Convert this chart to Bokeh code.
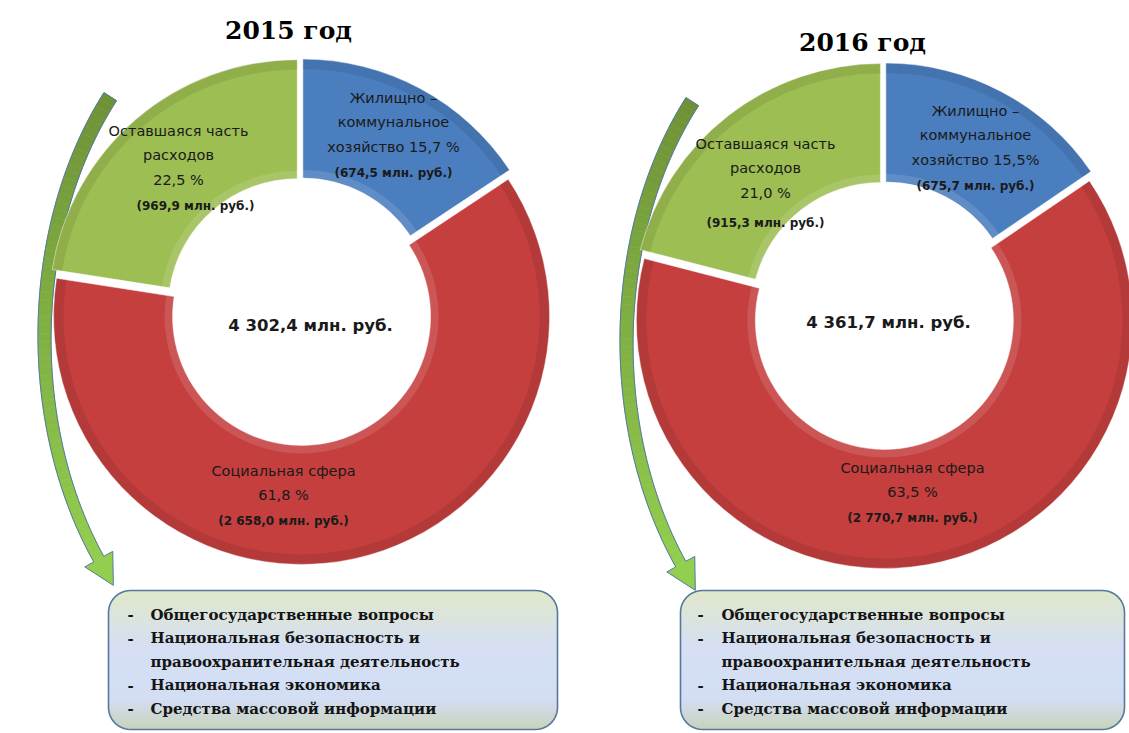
import math
from bokeh.plotting import figure
from bokeh.models import Range1d, ColumnDataSource
from bokeh.core.properties import value
from bokeh.embed import file_html
from bokeh.resources import INLINE

# ---------------- data ----------------
years = ["2015 год", "2016 год"]
totals = ["4 302,4 млн. руб.", "4 361,7 млн. руб."]
categories = ["Жилищно –\nкоммунальное\nхозяйство", "Социальная сфера", "Оставшаяся часть\nрасходов"]
amounts_2015 = [674.5, 2658.0, 969.9]
amounts_2016 = [675.7, 2770.7, 915.3]
pct_2015 = ["15,7 %", "61,8 %", "22,5 %"]
pct_2016 = ["15,5%", "63,5 %", "21,0 %"]
amount_labels_2015 = ["(674,5 млн. руб.)", "(2 658,0 млн. руб.)", "(969,9 млн. руб.)"]
amount_labels_2016 = ["(675,7 млн. руб.)", "(2 770,7 млн. руб.)", "(915,3 млн. руб.)"]
other_items = ["Общегосударственные вопросы",
               "Национальная безопасность и\nправоохранительная деятельность",
               "Национальная экономика",
               "Средства массовой информации"]
colors = ["#4A7EBF", "#C43F3E", "#9DBE52"]

# ---------------- canvas ----------------
IMG_H = 733
W, H = 1129, 733
def Y(iy):
    return IMG_H - iy

p = figure(width=W, height=H, x_range=Range1d(0, W), y_range=Range1d(0, H),
           output_backend="svg", toolbar_location=None, min_border=0)
p.axis.visible = False
p.grid.visible = False
p.outline_line_color = None
p.background_fill_color = "white"
p.border_fill_color = "white"

LABEL_FONT = value("DejaVu Sans")
SERIF = value("DejaVu Serif")


def txt(x, iy, s, size, font=LABEL_FONT, style="normal", color="#1a1a1a", align="center"):
    p.text(x=[x], y=[Y(iy)], text=[s], text_font=font, text_font_size=f"{size}px",
           text_font_style=style, text_color=color, text_align=align, text_baseline="middle")


def donut(cx, icy, amounts, R=248, r=129, d=5):
    cy = Y(icy)
    total = sum(amounts)
    xs, ys, st, en = [], [], [], []
    cum = 0.0
    for a in amounts:
        f0 = cum / total
        cum += a
        f1 = cum / total
        s = math.radians(90 - f1 * 360)
        e = math.radians(90 - f0 * 360)
        mid = (s + e) / 2
        xs.append(cx + d * math.cos(mid))
        ys.append(cy + d * math.sin(mid))
        st.append(s)
        en.append(e)
    src = ColumnDataSource(dict(x=xs, y=ys, s=st, e=en, c=colors))
    p.annular_wedge(x="x", y="y", inner_radius=r, outer_radius=R, start_angle="s", end_angle="e",
                    fill_color="c", line_color="white", line_width=0.5, source=src)
    # bevel shading
    p.annular_wedge(x="x", y="y", inner_radius=R - 10, outer_radius=R, start_angle="s", end_angle="e",
                    fill_color="black", fill_alpha=0.08, line_color=None, source=src)
    p.annular_wedge(x="x", y="y", inner_radius=r, outer_radius=r + 8, start_angle="s", end_angle="e",
                    fill_color="white", fill_alpha=0.12, line_color=None, source=src)


def lerp_color(c0, c1, t):
    a = [int(c0[i:i + 2], 16) for i in (1, 3, 5)]
    b = [int(c1[i:i + 2], 16) for i in (1, 3, 5)]
    return "#%02x%02x%02x" % tuple(int(round(a[k] + (b[k] - a[k]) * t)) for k in range(3))


def arrow(ox, oy):
    cx, cy, a, b = 300 + ox, 337 + oy, 256, 360
    t0, t1 = -42.0, 38.0
    N = 60
    L, Rr = [], []
    for i in range(N + 1):
        u = i / N
        w = 7.5 - 1.8 * u
        t = math.radians(t0 + (t1 - t0) * u)
        x = cx - a * math.cos(t)
        y = cy + b * math.sin(t)
        tx, ty = a * math.sin(t), b * math.cos(t)
        n = math.hypot(tx, ty)
        tx, ty = tx / n, ty / n
        nx, ny = -ty, tx
        L.append((x + nx * w, y + ny * w))
        Rr.append((x - nx * w, y - ny * w))
    xs_list, ys_list, cols = [], [], []
    c_top, c_bot = "#6F9136", "#92CF4E"
    for i in range(N):
        pts = [L[i], L[i + 1], Rr[i + 1], Rr[i]]
        xs_list.append([q[0] for q in pts])
        ys_list.append([Y(q[1]) for q in pts])
        cols.append(lerp_color(c_top, c_bot, i / N))
    p.patches(xs_list, ys_list, fill_color=cols, line_color=cols, line_width=0.6)
    # arrowhead
    x = cx - a * math.cos(math.radians(t1))
    y = cy + b * math.sin(math.radians(t1))
    tx, ty = a * math.sin(math.radians(t1)), b * math.cos(math.radians(t1))
    n = math.hypot(tx, ty)
    tx, ty = tx / n, ty / n
    nx, ny = -ty, tx
    hw, hl = 16, 30
    head = [(x + nx * hw, y + ny * hw), (x + tx * hl, y + ty * hl), (x - nx * hw, y - ny * hw)]
    p.patch([q[0] for q in head], [Y(q[1]) for q in head], fill_color=c_bot, line_color=None)
    outline = L + [head[0], head[1], head[2]] + Rr[::-1] + [L[0]]
    p.line([q[0] for q in outline], [Y(q[1]) for q in outline], line_color="#5479A6", line_width=1)


def rounded_box(x0, x1, iy0, iy1, rad):
    stops = [(0.0, "#DEE7C6"), (0.40, "#D3DDF2"), (0.78, "#D0DBF3"), (1.0, "#C4D0B4")]
    lefts, rights, tops, bots, cols = [], [], [], [], []
    n = int(iy1 - iy0)
    for i in range(n):
        ym = iy0 + i + 0.5
        if ym < iy0 + rad:
            dy = iy0 + rad - ym
        elif ym > iy1 - rad:
            dy = ym - (iy1 - rad)
        else:
            dy = 0
        inset = rad - math.sqrt(max(rad * rad - dy * dy, 0)) if dy > 0 else 0
        lefts.append(x0 + inset)
        rights.append(x1 - inset)
        tops.append(Y(iy0 + i - 0.3))
        bots.append(Y(iy0 + i + 1.3))
        t = i / n
        for k in range(len(stops) - 1):
            if stops[k][0] <= t <= stops[k + 1][0]:
                u = (t - stops[k][0]) / (stops[k + 1][0] - stops[k][0])
                cols.append(lerp_color(stops[k][1], stops[k + 1][1], u))
                break
    p.quad(left=lefts, right=rights, top=tops, bottom=bots, fill_color=cols, line_color=None)
    pts = []
    corners = [(x1 - rad, iy0 + rad, -90, 0), (x1 - rad, iy1 - rad, 0, 90),
               (x0 + rad, iy1 - rad, 90, 180), (x0 + rad, iy0 + rad, 180, 270)]
    for ccx, ccy, a0, a1 in corners:
        for j in range(13):
            ang = math.radians(a0 + (a1 - a0) * j / 12)
            pts.append((ccx + rad * math.cos(ang), ccy + rad * math.sin(ang)))
    pts.append(pts[0])
    p.line([q[0] for q in pts], [Y(q[1]) for q in pts], line_color="#56789F", line_width=1.6)


def legend_text(xd, xt, iy_start, step=23.5):
    iy = iy_start
    for item in other_items:
        lines = item.split("\n")
        txt(xd, iy, "-", 15, font=SERIF, style="bold", color="#141414", align="left")
        for ln in lines:
            txt(xt, iy, ln, 15, font=SERIF, style="bold", color="#141414", align="left")
            iy += step


def slice_labels(cx, icy, pcts, amts, offs):
    for k in range(3):
        dx, dy0, dya, adx = offs[k]
        lines = categories[k].split("\n")
        if k == 0:
            lines[-1] = lines[-1] + " " + pcts[k]
        else:
            lines = lines + [pcts[k]]
        for j, ln in enumerate(lines):
            txt(cx + dx, icy + dy0 + j * 24.5, ln, 14.5)
        txt(cx + adx, icy + dya, amts[k], 12, style="bold")


# ---------------- 2015 ----------------
arrow(0, 0)
donut(300, 311, amounts_2015)
slice_labels(301, 311, pct_2015, amount_labels_2015,
             [(92, -214, -139, 92), (-18, 159, 209, -18), (-123, -181, -106, -106)])
txt(310, 325, totals[0], 16.5, style="bold")
txt(288, 30, years[0], 25, font=SERIF, style="bold", color="#000000")
rounded_box(108, 557, 590, 729, 22)
legend_text(127, 150, 614)

# ---------------- 2016 ----------------
arrow(582, 5)
donut(883, 315, amounts_2016)
slice_labels(883, 315, pct_2016, amount_labels_2016,
             [(92, -205, -130, 92), (29, 152, 202, 29), (-118, -172, -93, -118)])
txt(888, 322, totals[1], 16.5, style="bold")
txt(862, 42, years[1], 25, font=SERIF, style="bold", color="#000000")
rounded_box(680, 1124, 590, 729, 22)
legend_text(697, 721, 614)

open("out.html", "w").write(file_html(p, INLINE))
